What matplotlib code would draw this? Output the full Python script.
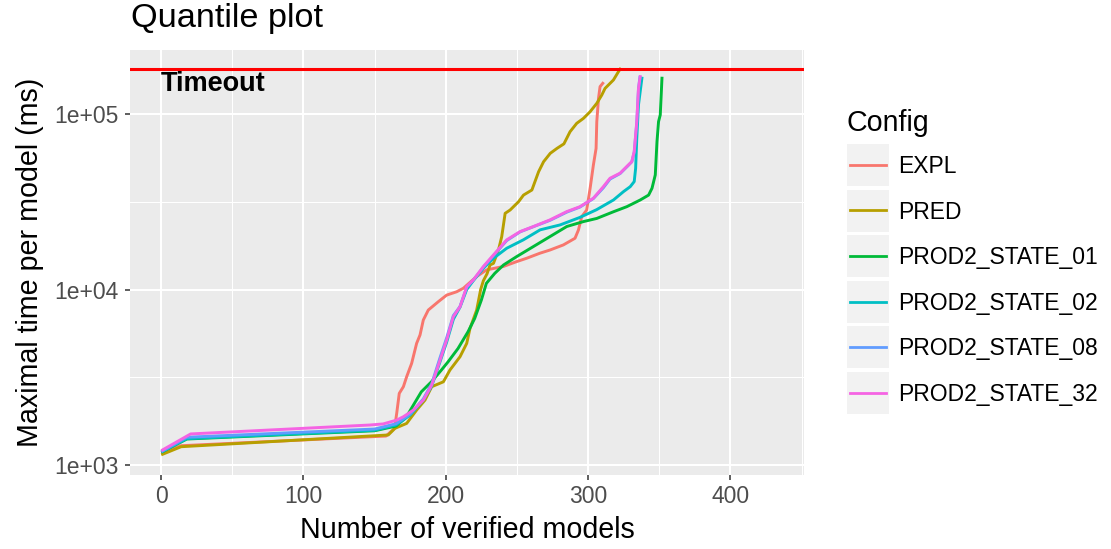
import matplotlib
matplotlib.use("Agg")
import matplotlib.pyplot as plt
from matplotlib import font_manager
from matplotlib.patches import Rectangle
from matplotlib.lines import Line2D
from matplotlib.ticker import FixedLocator, NullFormatter

plt.rcParams['font.family'] = ['Liberation Sans', 'DejaVu Sans']

# ---------------- data ----------------
configs = ["EXPL", "PRED", "PROD2_STATE_01", "PROD2_STATE_02",
           "PROD2_STATE_08", "PROD2_STATE_32"]
colors = ["#F8766D", "#B79F00", "#00BA38", "#00BFC4", "#619CFF", "#F564E3"]

expl_x = [1, 14, 158, 164, 165.5, 167.3, 170.2, 172.5, 176, 179.5, 181.9, 184.2,
          187.7, 194.8, 200.6, 207.6, 212.3, 221.7, 228.7, 240.4, 249.8, 256.8,
          266.2, 273.2, 282.6, 290.8, 293.2, 295.5, 299, 301.4, 303.7, 305.6,
          306.1, 307.3, 308.4, 310.3]
expl_y = [1175, 1288, 1462, 1618, 1968, 2559, 2793, 3184, 3793, 4932, 5508, 6699,
          7638, 8531, 9290, 9705, 10162, 11858, 12942, 13521, 14421, 15066,
          16106, 16788, 17947, 19588, 21827, 26002, 28379, 37670, 51168, 63680,
          90365, 122744, 143219, 149624]

pred_x = [1, 14, 159.6, 164.3, 172.5, 179.5, 185.4, 190.1, 198.3, 202.9, 210,
          214.7, 217, 221.7, 224.5, 226.4, 229, 231.1, 233.5, 237, 239.3, 241.7,
          245.2, 251.1, 254.6, 260.5, 265.2, 268.7, 273.4, 278.1, 283, 287.3,
          292, 296.7, 301.4, 306.1, 309.6, 311.9, 317.8, 321.3, 322.5]
pred_y = [1151, 1271, 1483, 1618, 1726, 2056, 2344, 2793, 2979, 3475, 4140,
          4932, 5998, 7638, 10000, 11220, 12303, 13804, 14093, 16788, 19999,
          27164, 28379, 31623, 34514, 36898, 46881, 53456, 59704, 63680, 67608,
          79250, 88512, 94406, 103039, 115080, 128233, 139959, 156315, 174181,
          180302]

s01_x = [1, 18, 150, 165, 172, 175.8, 182.8, 189.9, 196.9, 201.6, 208.6, 215.6,
         220.3, 225, 228.5, 234.4, 240.6, 249.9, 261.6, 273.3, 285, 296.7,
         306.1, 317.8, 327.2, 336.6, 342.5, 344.9, 347.2, 348.4, 349.5, 350.7,
         351.9]
s01_y = [1191, 1406, 1567, 1667, 1862, 2099, 2612, 2979, 3475, 3873, 4613, 5741,
         6839, 8710, 10839, 12359, 13804, 15417, 17579, 20045, 22856, 24378,
         25410, 27733, 29648, 32359, 34514, 37757, 44978, 69663, 90573, 98855,
         159956]

s02_x = [1, 18, 150, 165, 175, 184.2, 190.1, 196, 200.6, 205.3, 210, 214.7,
         219.3, 226.4, 233.5, 242.8, 254.5, 266.3, 280.3, 294, 306, 317.8,
         324.9, 329.6, 332.4, 333.4, 334.2, 335.4, 337.8]
s02_y = [1197, 1413, 1578, 1690, 1928, 2344, 2818, 3890, 5012, 6761, 7943,
         10000, 11220, 13213, 15066, 17179, 19187, 21878, 23335, 25704, 28510,
         32359, 36141, 38548, 41210, 49091, 72778, 112720, 159956]

s08_x = [1, 18, 150, 165, 175, 184.2, 190.1, 196, 200.6, 205.3, 210, 214.7,
         219.3, 226.4, 233.5, 242.8, 252.2, 261.6, 273.3, 285, 294.3, 303.7,
         310.7, 315.4, 322.5, 328.3, 330.7, 332.4, 334.2, 335.4, 336.4]
s08_y = [1202, 1439, 1603, 1718, 1950, 2380, 2900, 4100, 5300, 7100, 8000,
         10300, 11300, 13400, 15600, 19000, 21300, 22800, 24800, 27600, 29500,
         33000, 38000, 42600, 45800, 51000, 53400, 60500, 89000, 139000, 162000]

s32_x = [1, 20.7, 146.7, 156, 165.5, 170.2, 177.2, 184.2, 190.1, 196, 200.6,
         205.3, 210, 214.7, 219.3, 226.4, 233.5, 242.8, 252.2, 261.6, 273.3, 285,
         294.3, 303.7, 310.7, 315.4, 322.5, 328.3, 330.7, 332.4, 334.2, 335.4,
         336.6]
s32_y = [1219, 1503, 1690, 1714, 1803, 1884, 2056, 2344, 2851, 3963, 5152,
         6998, 7980, 10375, 11324, 13521, 15740, 19187, 21380, 22856, 24946,
         27797, 29648, 33113, 38548, 43053, 46026, 51286, 53580, 61094, 90573,
         140281, 163305]

series_x = [expl_x, pred_x, s01_x, s02_x, s08_x, s32_x]
series_y = [expl_y, pred_y, s01_y, s02_y, s08_y, s32_y]

timeout_ms = 180000
x_ticks = [0, 100, 200, 300, 400]
x_minor = [50, 150, 250, 350, 450]
y_ticks = [1e3, 1e4, 1e5]
y_tick_labels = ["1e+03", "1e+04", "1e+05"]
y_minor = [10 ** 3.5, 10 ** 4.5]

# ---------------- figure ----------------
W, H = 1111, 549
fig = plt.figure(figsize=(W / 100, H / 100), dpi=100)
PL, PR, PT, PB = 130, 804, 50, 475
ax = fig.add_axes([PL / W, 1 - PB / H, (PR - PL) / W, (PB - PT) / H])
ax.set_facecolor('#EBEBEB')
for s in ax.spines.values():
    s.set_visible(False)

ax.set_yscale('log')
ax.set_xlim(-21.9, 451.7)
ax.set_ylim(877, 231600)
ax.xaxis.set_major_locator(FixedLocator(x_ticks))
ax.xaxis.set_minor_locator(FixedLocator(x_minor))
ax.yaxis.set_major_locator(FixedLocator(y_ticks))
ax.yaxis.set_minor_locator(FixedLocator(y_minor))
ax.yaxis.set_minor_formatter(NullFormatter())
ax.xaxis.set_minor_formatter(NullFormatter())
ax.set_yticklabels(y_tick_labels)
ax.set_xticklabels([str(v) for v in x_ticks])
ax.grid(which='major', color='white', linewidth=1.5)
ax.grid(which='minor', color='white', linewidth=0.75)
ax.set_axisbelow(True)
ax.tick_params(which='major', length=3.8, width=1.1, color='#333333',
               labelsize=16.5, labelcolor='#4D4D4D')
ax.tick_params(axis='x', which='major', pad=3.5)
ax.tick_params(axis='y', which='major', pad=4.5)
ax.tick_params(which='minor', length=0)

for xs, ys, c in zip(series_x, series_y, colors):
    ax.plot(xs, ys, color=c, linewidth=2.1, solid_joinstyle='round')

ax.axhline(timeout_ms, color='#FF0000', linewidth=2.2)

names = {f.name for f in font_manager.fontManager.ttflist}
if 'Liberation Sans Narrow' in names:
    tfam, tsize = 'Liberation Sans Narrow', 22.5
else:
    tfam, tsize = 'Liberation Sans', 19.5
ax.annotate("Timeout", xy=(0, timeout_ms), xytext=(0, -15.6),
            textcoords='offset points', ha='left', va='baseline',
            fontsize=tsize, fontweight='bold', family=tfam, color='black')

ax.set_xlabel("Number of verified models", fontsize=20.6, color='black')
ax.xaxis.label.set_va('baseline')
ax.xaxis.set_label_coords(0.5, (PB - 538) / (PB - PT))
ax.set_ylabel("Maximal time per model (ms)", fontsize=20.6, color='black')
ax.yaxis.label.set_va('baseline')
ax.yaxis.label.set_rotation_mode('anchor')
ax.yaxis.set_label_coords((38 - PL) / (PR - PL), 0.5)

fig.text(131 / W, 1 - 27 / H, "Quantile plot", fontsize=24.7,
         va='baseline', ha='left', color='black')

# ---------------- legend ----------------
fig.text(847 / W, 1 - 131 / H, "Config", fontsize=20.6, va='baseline',
         ha='left', color='black')
for i, (name, c) in enumerate(zip(configs, colors)):
    top = 144 + i * 45.5
    fig.patches.append(Rectangle((847 / W, 1 - (top + 42) / H), 42 / W, 42 / H,
                                 transform=fig.transFigure,
                                 facecolor='#F2F2F2', edgecolor='none'))
    cy = top + 21
    fig.lines.append(Line2D([850 / W, 886 / W], [1 - cy / H] * 2,
                            transform=fig.transFigure, color=c, linewidth=2.0))
    fig.text(898 / W, 1 - (cy + 8.2) / H, name, fontsize=16.5,
             va='baseline', ha='left', color='black')

fig.savefig("out.png", dpi=100)
